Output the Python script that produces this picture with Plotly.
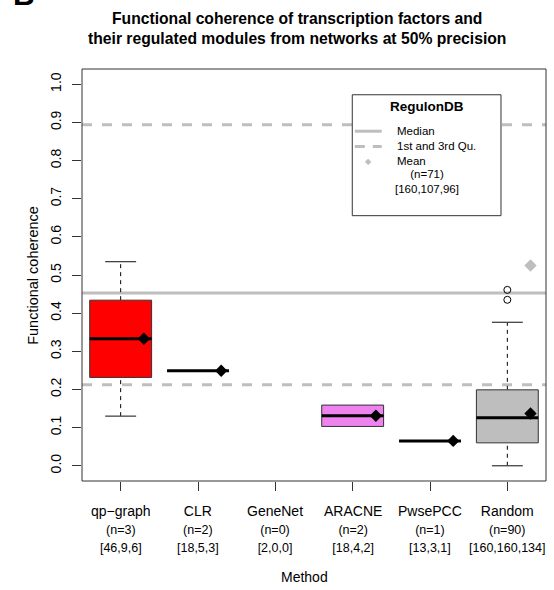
import plotly.graph_objects as go

# Methods compared, with module counts and [TFs, modules, annotated] triples
methods = ["qp\u2212graph", "CLR", "GeneNet", "ARACNE", "PwsePCC", "Random"]
n_modules = [3, 2, 0, 2, 1, 90]
triples = [[46, 9, 6], [18, 5, 3], [2, 0, 0], [18, 4, 2], [13, 3, 1], [160, 160, 134]]
box_colors = ["#FF0000", "#FFFFFF", "#FFFFFF", "#EE82EE", "#FFFFFF", "#BEBEBE"]

# Box-plot statistics of functional coherence per method (None = no modules)
lower_whisker = [0.130, 0.249, None, 0.103, 0.065, 0.000]
q1 = [0.2315, 0.249, None, 0.103, 0.065, 0.060]
median = [0.333, 0.249, None, 0.131, 0.065, 0.126]
q3 = [0.434, 0.249, None, 0.159, 0.065, 0.199]
upper_whisker = [0.535, 0.249, None, 0.159, 0.065, 0.376]
mean = [0.333, 0.249, None, 0.131, 0.065, 0.137]
outliers = [[], [], [], [], [], [0.435, 0.461]]

# RegulonDB reference distribution
ref_q1 = 0.212
ref_median = 0.453
ref_q3 = 0.894
ref_mean = 0.525
ref_n = 71
ref_triple = [160, 107, 96]

y_ticks = [0.0, 0.1, 0.2, 0.3, 0.4, 0.5, 0.6, 0.7, 0.8, 0.9, 1.0]

FONT = "Liberation Sans, Arial, sans-serif"
REF_GRAY = "#BEBEBE"
BOX_HALF = 0.4
CAP_HALF = 0.2
MEAN_SHIFT = 0.3

fig = go.Figure()

for i, name in enumerate(methods):
    if median[i] is None:
        continue
    x0, x1 = i - BOX_HALF, i + BOX_HALF
    # whiskers (dashed) and caps
    if upper_whisker[i] > q3[i]:
        fig.add_trace(go.Scatter(x=[i, i], y=[q3[i], upper_whisker[i]], mode="lines",
                                 line=dict(color="black", width=1, dash="4px,4px"),
                                 hoverinfo="skip"))
        fig.add_trace(go.Scatter(x=[i - CAP_HALF, i + CAP_HALF],
                                 y=[upper_whisker[i]] * 2, mode="lines",
                                 line=dict(color="#444444", width=1.3), hoverinfo="skip"))
    if lower_whisker[i] < q1[i]:
        fig.add_trace(go.Scatter(x=[i, i], y=[lower_whisker[i], q1[i]], mode="lines",
                                 line=dict(color="black", width=1, dash="4px,4px"),
                                 hoverinfo="skip"))
        fig.add_trace(go.Scatter(x=[i - CAP_HALF, i + CAP_HALF],
                                 y=[lower_whisker[i]] * 2, mode="lines",
                                 line=dict(color="#444444", width=1.3), hoverinfo="skip"))
    # box
    fig.add_trace(go.Scatter(x=[x0, x1, x1, x0, x0],
                             y=[q1[i], q1[i], q3[i], q3[i], q1[i]],
                             mode="lines", fill="toself", fillcolor=box_colors[i],
                             line=dict(color="#333333", width=1), hoverinfo="skip"))
    # median
    fig.add_trace(go.Scatter(x=[x0, x1], y=[median[i]] * 2, mode="lines",
                             line=dict(color="black", width=3), hoverinfo="skip"))
    # outliers
    if outliers[i]:
        fig.add_trace(go.Scatter(x=[i] * len(outliers[i]), y=outliers[i], mode="markers",
                                 marker=dict(symbol="circle-open", size=7, color="black",
                                             line=dict(width=1)),
                                 hoverinfo="skip"))
    # mean
    fig.add_trace(go.Scatter(x=[i + MEAN_SHIFT], y=[mean[i]], mode="markers",
                             marker=dict(symbol="diamond", size=9.5, color="black"),
                             hoverinfo="skip"))

# RegulonDB mean
fig.add_trace(go.Scatter(x=[len(methods) - 1 + MEAN_SHIFT], y=[ref_mean], mode="markers",
                         marker=dict(symbol="diamond", size=9.5, color=REF_GRAY),
                         hoverinfo="skip"))

shapes = [
    dict(type="line", xref="paper", x0=0, x1=1, yref="y", y0=ref_median, y1=ref_median,
         line=dict(color=REF_GRAY, width=3), layer="below"),
    dict(type="line", xref="paper", x0=0, x1=1, yref="y", y0=ref_q1, y1=ref_q1,
         line=dict(color=REF_GRAY, width=3, dash="10px,10px"), layer="below"),
    dict(type="line", xref="paper", x0=0, x1=1, yref="y", y0=ref_q3, y1=ref_q3,
         line=dict(color=REF_GRAY, width=3, dash="10px,10px"), layer="below"),
    # plot frame
    dict(type="rect", xref="paper", yref="paper", x0=0, x1=1, y0=0, y1=1,
         line=dict(color="#333333", width=1)),
    # legend box
    dict(type="rect", xref="paper", yref="paper", x0=0.5825, x1=0.903, y0=0.644, y1=0.9375,
         line=dict(color="#333333", width=1), fillcolor="white"),
    dict(type="line", xref="paper", yref="paper", x0=0.588, x1=0.646, y0=0.849, y1=0.849,
         line=dict(color=REF_GRAY, width=3)),
    dict(type="line", xref="paper", yref="paper", x0=0.588, x1=0.646, y0=0.812, y1=0.812,
         line=dict(color=REF_GRAY, width=3, dash="10px,8px")),
]

annotations = [
    dict(text="<b>Functional coherence of transcription factors and<br>"
              "their regulated modules from networks at 50% precision</b>",
         xref="paper", yref="paper", x=0.463, y=1.099, xanchor="center", yanchor="middle",
         showarrow=False, font=dict(size=15.7, color="black", family=FONT)),
    dict(text="<b>B</b>", xref="paper", yref="paper", x=-0.152, y=1.137,
         xanchor="left", yanchor="bottom", showarrow=False,
         font=dict(size=30, color="black", family=FONT)),
    dict(text="Functional coherence", xref="paper", yref="paper", x=-0.106, y=0.5,
         textangle=-90, xanchor="center", yanchor="middle", showarrow=False,
         font=dict(size=14.5, color="black", family=FONT)),
    dict(text="Method", xref="paper", yref="paper", x=0.48, y=-0.233,
         xanchor="center", yanchor="middle", showarrow=False,
         font=dict(size=14, color="black", family=FONT)),
    # legend text
    dict(text="<b>RegulonDB</b>", xref="paper", yref="paper", x=0.743, y=0.910,
         xanchor="center", yanchor="middle", showarrow=False,
         font=dict(size=13.5, color="black", family=FONT)),
    dict(text="Median", xref="paper", yref="paper", x=0.6746, y=0.849,
         xanchor="left", yanchor="middle", showarrow=False,
         font=dict(size=11.5, color="black", family=FONT)),
    dict(text="1st and 3rd Qu.", xref="paper", yref="paper", x=0.6746, y=0.812,
         xanchor="left", yanchor="middle", showarrow=False,
         font=dict(size=11.5, color="black", family=FONT)),
    dict(text="Mean", xref="paper", yref="paper", x=0.6746, y=0.7765,
         xanchor="left", yanchor="middle", showarrow=False,
         font=dict(size=11.5, color="black", family=FONT)),
    dict(text="\u25C6", xref="paper", yref="paper", x=0.617, y=0.7765,
         xanchor="center", yanchor="middle", showarrow=False,
         font=dict(size=8, color=REF_GRAY, family="DejaVu Sans")),
    dict(text=f"(n={ref_n})<br>[{','.join(str(v) for v in ref_triple)}]",
         xref="paper", yref="paper", x=0.743, y=0.726,
         xanchor="center", yanchor="middle", showarrow=False,
         font=dict(size=11.5, color="black", family=FONT)),
]

# category labels under the x axis
for i, name in enumerate(methods):
    annotations.append(dict(
        text=f"{name}<br><span style='font-size:12.5px'>(n={n_modules[i]})<br>"
             f"[{','.join(str(v) for v in triples[i])}]</span>",
        xref="x", yref="paper", x=i, y=-0.048, xanchor="center", yanchor="top",
        showarrow=False, font=dict(size=14, color="black", family=FONT)))

fig.update_layout(
    width=554, height=590,
    margin=dict(l=82, r=8, t=68.5, b=109),
    paper_bgcolor="white", plot_bgcolor="white",
    showlegend=False,
    font=dict(family=FONT, color="black"),
    shapes=shapes,
    annotations=annotations,
    xaxis=dict(range=[-0.5, len(methods) - 0.5], tickvals=list(range(len(methods))),
               showticklabels=False, ticks="outside", ticklen=9, tickcolor="#333333",
               showgrid=False, zeroline=False, showline=False, fixedrange=True),
    yaxis=dict(range=[-0.04, 1.04], tickvals=y_ticks, tickformat=".1f",
               tickangle=-90, ticks="outside", ticklen=9, tickcolor="#333333",
               ticklabelstandoff=5,
               tickfont=dict(size=14, color="black", family=FONT),
               showgrid=False, zeroline=False, showline=False, fixedrange=True),
)

fig.write_html("out.html")
